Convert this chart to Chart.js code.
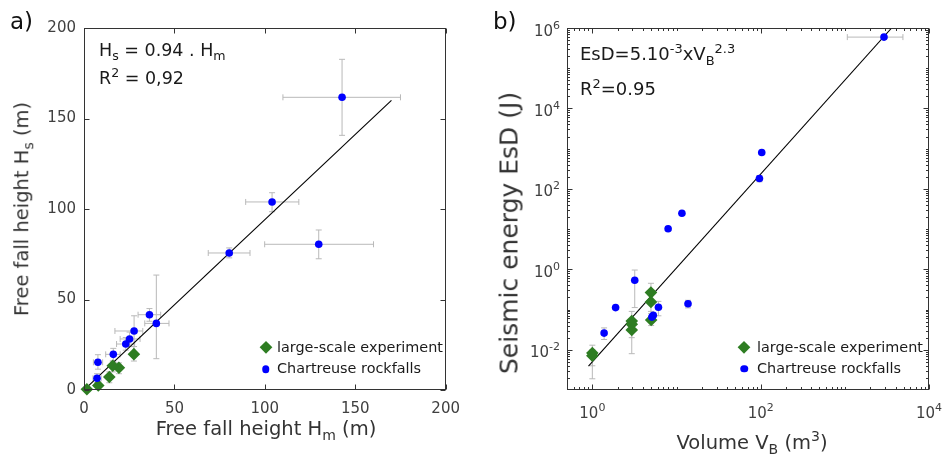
<!DOCTYPE html>
<html>
<head>
<meta charset="utf-8">
<script src="https://cdn.jsdelivr.net/npm/chart.js@4.4.1/dist/chart.umd.min.js"></script>
<style>
body{margin:0;background:#fff;width:947px;height:455px;position:relative;overflow:hidden;font-family:'DejaVu Sans',sans-serif;color:#262626}
canvas{position:absolute;top:0}
#chartA{left:0}
#chartB{left:470px}
.t{position:absolute;white-space:nowrap;line-height:1}
.t sub,.t sup{font-size:0.72em;line-height:0}
.t sub{vertical-align:-0.35em}
.t sup{vertical-align:0.55em}
.ytitle{transform:translate(-50%,-50%) rotate(-90deg)}
.xtitle{transform:translateX(-50%)}
.dia{position:absolute;width:8.5px;height:8.5px;background:#2e7d22;transform:translate(-50%,-50%) rotate(45deg)}
.dot{position:absolute;width:7.5px;height:7.5px;border-radius:50%;background:#0000ff;transform:translate(-50%,-50%)}
</style>
</head>
<body>
<canvas id="chartA" width="470" height="455"></canvas>
<canvas id="chartB" width="477" height="455"></canvas>

<div class="t" style="left:10px;top:10px;font-size:23px;color:#111">a)</div>
<div class="t" style="left:493px;top:10px;font-size:23px;color:#111">b)</div>

<div class="t" style="left:99px;top:42px;font-size:17.5px;color:#1a1a1a">H<sub>s</sub> = 0.94 . H<sub>m</sub></div>
<div class="t" style="left:99px;top:70px;font-size:17.5px;color:#1a1a1a">R<sup>2</sup> = 0,92</div>
<div class="t" style="left:580px;top:45px;font-size:18px;color:#1a1a1a">EsD=5.10<sup>-3</sup>xV<sub>B</sub><sup>2.3</sup></div>
<div class="t" style="left:580px;top:80px;font-size:18px;color:#1a1a1a">R<sup>2</sup>=0.95</div>

<div class="dia" style="left:265.7px;top:346.7px"></div>
<div class="dot" style="left:265.7px;top:369px"></div>
<div class="t" style="left:277px;top:339.5px;font-size:14.4px;color:#1a1a1a">large-scale experiment</div>
<div class="t" style="left:277px;top:361px;font-size:14.4px;color:#1a1a1a">Chartreuse rockfalls</div>
<div class="dia" style="left:744.3px;top:346.7px"></div>
<div class="dot" style="left:744.3px;top:368.7px"></div>
<div class="t" style="left:757px;top:339.5px;font-size:14.4px;color:#1a1a1a">large-scale experiment</div>
<div class="t" style="left:757px;top:361px;font-size:14.4px;color:#1a1a1a">Chartreuse rockfalls</div>

<div class="t xtitle" style="left:266px;top:418.5px;font-size:19.5px;color:#333">Free fall height H<sub>m</sub> (m)</div>
<div class="t xtitle" style="left:752px;top:432.5px;font-size:19.5px;color:#333">Volume V<sub>B</sub> (m<sup>3</sup>)</div>
<div class="t ytitle" style="left:22px;top:209px;font-size:19.5px;color:#333">Free fall height H<sub>s</sub> (m)</div>
<div class="t ytitle" style="left:509px;top:233px;font-size:25px;color:#333">Seismic energy EsD (J)</div>

<script>
// ---- panel a : free fall heights ----
const aTicks = [0, 50, 100, 150, 200];
const aBlueX = [142.7, 104, 129.8, 80.3, 40, 36.2, 27.7, 25.2, 23.1, 16.2, 7.7, 7.2];
const aBlueY = [161.7, 103.9, 80.5, 75.7, 36.8, 41.6, 32.6, 28.2, 25.4, 19.7, 15.3, 6.5];
const aBlueXErr = [[110, 175], [89.4, 118.8], [99.9, 160.1], [68.7, 91.8], [33.6, 47], [29.9, 42.4],
                   [17.1, 32.5], [20, 31], [18, 28], [12, 20], [5.2, 10.3], [5, 9.5]];
const aBlueYErr = [[140.7, 182.7], [98.5, 109], [72.5, 88.4], [73, 78.5], [17.3, 63.5], [38, 45],
                   [24, 41], [24, 32], [22, 29], [16, 23], [11.5, 19.5], [4, 9]];
const aGreenX = [27.6, 19.3, 15.9, 14, 7.9, 1.6];
const aGreenY = [19.8, 12.3, 13.4, 7.2, 2.5, 0.4];
const aGreenYErr = [[16, 24], [9, 15], [10, 16], [4, 10], [0.5, 4.5], [0, 1.5]];
const aFitX = [0, 170];
const aFitY = [0, 160];

// ---- panel b : seismic energy vs volume ----
const bXTicks = [1, 100, 10000];
const bYTicks = [0.01, 1, 100, 1e4, 1e6];
const bBlueX = [2920, 103, 96.7, 11.6, 7.95, 3.19, 1.89, 6.1, 13.7, 5.3, 5.1, 1.38];
const bBlueY = [594000, 800, 181, 24.9, 10.2, 0.533, 0.112, 0.114, 0.14, 0.072, 0.065, 0.026];
const bBlueXErr = [[1070, 4900], null, null, null, null, null, null, null, null, null, null, null];
const bBlueYErr = [null, null, [150, 215], null, [9, 11.5], [0.112, 0.96], null, [0.07, 0.16],
                   [0.11, 0.17], null, null, [0.018, 0.035]];
const bGreenX = [4.97, 4.97, 5.0, 2.94, 2.94, 2.94, 1.0, 1.0];
const bGreenY = [0.264, 0.155, 0.055, 0.052, 0.043, 0.031, 0.0083, 0.0071];
const bGreenYErr = [[0.15, 0.45], [0.09, 0.25], [0.04, 0.08], [0.03, 0.09], [0.02, 0.06],
                    [0.008, 0.06], [0.004, 0.013], [0.0019, 0.01]];
const bFitX = [0.9, 3600];
const bFitY = [0.0039, 1e6];

const BLUE = '#0000ff', GREEN = '#2e7d22', ERR = '#b9b9b9', AXIS = '#333';
const FONT = "'DejaVu Sans', sans-serif";

function pts(xs, ys) { return xs.map((x, i) => ({x: x, y: ys[i]})); }

// "10" with a raised exponent, like the matlab tick labels
function drawPow(ctx, v, x, y, align) {
    const e = String(Math.round(Math.log10(v)));
    ctx.font = '15px ' + FONT;
    const w1 = ctx.measureText('10').width;
    ctx.font = '11px ' + FONT;
    const w2 = ctx.measureText(e).width;
    const left = align === 'center' ? x - (w1 + w2) / 2 : x - (w1 + w2);
    ctx.fillStyle = '#404040';
    ctx.textAlign = 'left';
    ctx.textBaseline = 'alphabetic';
    ctx.font = '15px ' + FONT;
    ctx.fillText('10', left, y);
    ctx.font = '11px ' + FONT;
    ctx.fillText(e, left + w1, y - 7);
}

// error bars, behind the markers
const errorBars = {
    id: 'errorBars',
    beforeDatasetsDraw(chart) {
        const {ctx, scales: {x, y}} = chart;
        ctx.save();
        ctx.strokeStyle = ERR;
        ctx.lineWidth = 1;
        const seg = (x1, y1, x2, y2) => { ctx.beginPath(); ctx.moveTo(x1, y1); ctx.lineTo(x2, y2); ctx.stroke(); };
        chart.data.datasets.forEach(ds => {
            ds.data.forEach((p, i) => {
                const px = x.getPixelForValue(p.x), py = y.getPixelForValue(p.y);
                const ex = ds.errX && ds.errX[i], ey = ds.errY && ds.errY[i];
                if (ex) {
                    const l = x.getPixelForValue(ex[0]), r = x.getPixelForValue(ex[1]);
                    seg(l, py, r, py); seg(l, py - 3, l, py + 3); seg(r, py - 3, r, py + 3);
                }
                if (ey) {
                    const t = y.getPixelForValue(ey[1]), b = y.getPixelForValue(ey[0]);
                    seg(px, t, px, b); seg(px - 3, t, px + 3, t); seg(px - 3, b, px + 3, b);
                }
            });
        });
        ctx.restore();
    }
};

// box with inward ticks on all four sides (matlab style)
const boxTicks = {
    id: 'boxTicks',
    afterDatasetsDraw(chart, args, opts) {
        const {ctx, chartArea: a, scales: {x, y}} = chart;
        ctx.save();
        ctx.strokeStyle = AXIS;
        ctx.lineWidth = 1;
        const seg = (x1, y1, x2, y2) => { ctx.beginPath(); ctx.moveTo(x1, y1); ctx.lineTo(x2, y2); ctx.stroke(); };
        const L = Math.round(a.left) + 0.5, R = Math.round(a.right) - 0.5;
        const T = Math.round(a.top) + 0.5, B = Math.round(a.bottom) - 0.5;
        ctx.strokeRect(L, T, R - L, B - T);
        const xt = (v, len) => { const p = Math.round(x.getPixelForValue(v)) + 0.5; seg(p, B, p, B - len); seg(p, T, p, T + len); };
        const yt = (v, len) => { const p = Math.round(y.getPixelForValue(v)) + 0.5; seg(L, p, L + len, p); seg(R, p, R - len, p); };
        opts.xMajor.forEach(v => xt(v, 5));
        opts.yMajor.forEach(v => yt(v, 5));
        if (opts.log) {
            for (let e = -4; e <= 6; e++) {
                for (let k = 1; k <= 9; k++) {
                    const v = k * Math.pow(10, e);
                    if (v > x.min && v < x.max && !opts.xMajor.includes(v)) xt(v, 2.5);
                    if (v > y.min && v < y.max && !opts.yMajor.includes(v)) yt(v, 2.5);
                }
            }
            opts.xMajor.forEach(v => drawPow(ctx, v, x.getPixelForValue(v), a.bottom + 28, 'center'));
            opts.yMajor.forEach(v => drawPow(ctx, v, a.left - 7, y.getPixelForValue(v) + 7.5, 'right'));
        }
        ctx.restore();
    }
};

Chart.defaults.font.family = FONT;
Chart.defaults.font.size = 15;
Chart.defaults.color = '#404040';

function fixTicks(values) {
    return function (scale) { scale.ticks = values.map(v => ({value: v})); };
}

function makeChart(id, cfg) {
    return new Chart(document.getElementById(id), {
        type: 'scatter',
        data: {
            datasets: [
                {data: pts(cfg.blueX, cfg.blueY), errX: cfg.blueXErr, errY: cfg.blueYErr, clip: false,
                 pointStyle: 'circle', pointRadius: 3.8, backgroundColor: BLUE, borderWidth: 0},
                {data: pts(cfg.greenX, cfg.greenY), errY: cfg.greenYErr, clip: false,
                 pointStyle: 'rectRot', pointRadius: 6.3, backgroundColor: GREEN, borderWidth: 0},
                {data: pts(cfg.fitX, cfg.fitY), showLine: true, pointRadius: 0,
                 borderColor: '#000', borderWidth: 1.1}
            ]
        },
        options: {
            responsive: false,
            animation: false,
            layout: {padding: cfg.padding},
            plugins: {
                legend: {display: false},
                tooltip: {enabled: false},
                boxTicks: {xMajor: cfg.xTicks, yMajor: cfg.yTicks, log: cfg.log}
            },
            scales: {
                x: {
                    type: cfg.log ? 'logarithmic' : 'linear',
                    min: cfg.xMin, max: cfg.xMax,
                    grid: {display: false, drawTicks: false},
                    border: {display: false},
                    afterBuildTicks: fixTicks(cfg.xTicks),
                    afterFit: s => { s.height = cfg.xAxisH; },
                    ticks: {display: !cfg.log, padding: 10, maxRotation: 0, autoSkip: false}
                },
                y: {
                    type: cfg.log ? 'logarithmic' : 'linear',
                    min: cfg.yMin, max: cfg.yMax,
                    grid: {display: false, drawTicks: false},
                    border: {display: false},
                    afterBuildTicks: fixTicks(cfg.yTicks),
                    afterFit: s => { s.width = cfg.yAxisW; },
                    ticks: {display: !cfg.log, padding: 8, autoSkip: false}
                }
            }
        },
        plugins: [errorBars, boxTicks]
    });
}

makeChart('chartA', {
    blueX: aBlueX, blueY: aBlueY, blueXErr: aBlueXErr, blueYErr: aBlueYErr,
    greenX: aGreenX, greenY: aGreenY, greenYErr: aGreenYErr,
    fitX: aFitX, fitY: aFitY,
    xTicks: aTicks, yTicks: aTicks, log: false,
    xMin: 0, xMax: 200, yMin: 0, yMax: 200,
    padding: {left: 0, right: 23, top: 28, bottom: 0}, yAxisW: 84, xAxisH: 65
});

makeChart('chartB', {
    blueX: bBlueX, blueY: bBlueY, blueXErr: bBlueXErr, blueYErr: bBlueYErr,
    greenX: bGreenX, greenY: bGreenY, greenYErr: bGreenYErr,
    fitX: bFitX, fitY: bFitY,
    xTicks: bXTicks, yTicks: bYTicks, log: true,
    xMin: 0.5, xMax: 10000, yMin: 0.001, yMax: 1e6,
    padding: {left: 0, right: 18, top: 28, bottom: 0}, yAxisW: 97, xAxisH: 65
});
</script>
</body>
</html>
